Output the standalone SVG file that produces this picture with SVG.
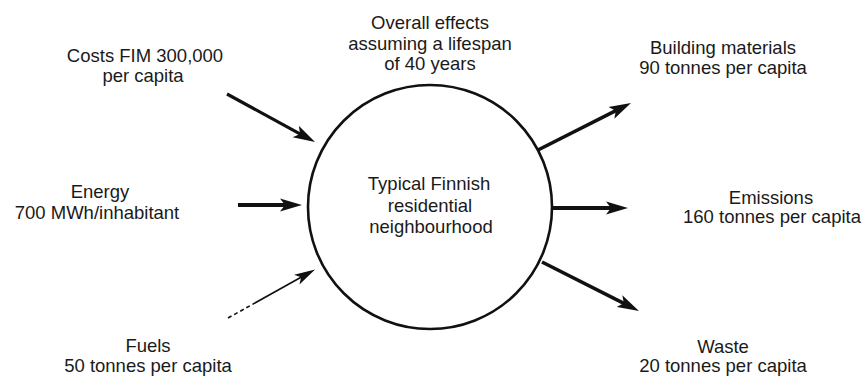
<svg xmlns="http://www.w3.org/2000/svg" width="867" height="379" viewBox="0 0 867 379">
  <style>
    text { font-family: "Liberation Sans", Arial, sans-serif; font-size: 18.5px; fill: #1a1a1a; text-anchor: middle; }
    .arrow { stroke: #111; fill: none; stroke-linecap: butt; }
    .thick { stroke-width: 3.6; }
    .thin { stroke-width: 1.6; }
  </style>
  <defs>
    <marker id="head" markerUnits="userSpaceOnUse" markerWidth="24" markerHeight="14" viewBox="0 -7 24 14" refX="10" refY="0" orient="auto">
      <path d="M0,-6.5 L22,0 L0,6.5 L5,0 Z" fill="#111"/>
    </marker>
    <marker id="headsm" markerUnits="userSpaceOnUse" markerWidth="24" markerHeight="14" viewBox="0 -7 24 14" refX="10" refY="0" orient="auto">
      <path d="M0,-5.5 L21,0 L0,5.5 L5,0 Z" fill="#111"/>
    </marker>
  </defs>
  <rect width="867" height="379" fill="#ffffff"/>

  <g id="title">
    <text x="430" y="29">Overall effects</text>
    <text x="430" y="50">assuming a lifespan</text>
    <text x="430" y="70">of 40 years</text>
  </g>

  <g id="center">
    <circle cx="430" cy="207" r="122" fill="none" stroke="#111" stroke-width="2.6"/>
    <text x="429" y="190">Typical Finnish</text>
    <text x="430" y="212">residential</text>
    <text x="431" y="233">neighbourhood</text>
  </g>

  <g id="costs">
    <text x="145" y="62">Costs FIM 300,000</text>
    <text x="143" y="82">per capita</text>
  </g>

  <g id="energy">
    <text x="100" y="198">Energy</text>
    <text x="97" y="219">700 MWh/inhabitant</text>
  </g>

  <g id="fuels">
    <text x="148" y="352">Fuels</text>
    <text x="148" y="372">50 tonnes per capita</text>
  </g>

  <g id="building">
    <text x="723" y="54">Building materials</text>
    <text x="723" y="74">90 tonnes per capita</text>
  </g>

  <g id="emissions">
    <text x="771" y="204">Emissions</text>
    <text x="772" y="223">160 tonnes per capita</text>
  </g>

  <g id="waste">
    <text x="723" y="353">Waste</text>
    <text x="723" y="372">20 tonnes per capita</text>
  </g>

  <g id="connectors">
    <line class="arrow thick" x1="227" y1="94" x2="304.5" y2="136.3" marker-end="url(#head)" style="stroke-width:3.2"/>
    <line class="arrow thick" x1="238" y1="205" x2="290" y2="205" marker-end="url(#head)" style="stroke-width:4"/>
    <line class="arrow thin" x1="228" y1="318" x2="305.5" y2="274.8" stroke-dasharray="4 3 4 3 4 3 4 3 200" marker-end="url(#headsm)"/>
    <line class="arrow thick" x1="538" y1="150" x2="620.3" y2="108.4" marker-end="url(#head)"/>
    <line class="arrow thick" x1="553" y1="208" x2="616" y2="208" marker-end="url(#head)" style="stroke-width:4"/>
    <line class="arrow thick" x1="542" y1="262" x2="628.3" y2="305.6" marker-end="url(#head)"/>
  </g>
</svg>
